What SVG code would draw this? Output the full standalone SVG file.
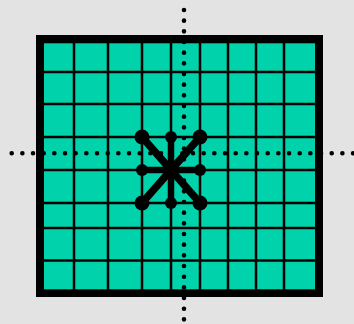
<svg xmlns="http://www.w3.org/2000/svg" width="354" height="324" viewBox="0 0 354 324">
<style>
.grid line{stroke:#000;stroke-width:2.5}
.dots{stroke:#000;stroke-width:4.6;stroke-linecap:round;stroke-dasharray:0 10.667;fill:none}
.arm{stroke:#000;stroke-width:6.5;stroke-linecap:round}
.diag{stroke:#000;stroke-width:7.5;stroke-linecap:round}
</style>
<rect width="354" height="324" fill="#e3e3e3"/>
<g id="board">
<rect x="36" y="35" width="287" height="262" fill="#000"/>
<rect x="44" y="43.3" width="271" height="246" fill="#00d2ac"/>
<g class="grid">
<line x1="74" y1="43" x2="74" y2="290"/>
<line x1="108" y1="43" x2="108" y2="290"/>
<line x1="142" y1="43" x2="142" y2="290"/>
<line x1="171" y1="43" x2="171" y2="290"/>
<line x1="200" y1="43" x2="200" y2="290"/>
<line x1="228" y1="43" x2="228" y2="290"/>
<line x1="256" y1="43" x2="256" y2="290"/>
<line x1="284" y1="43" x2="284" y2="290"/>
<line x1="44" y1="72" x2="315" y2="72"/>
<line x1="44" y1="104" x2="315" y2="104"/>
<line x1="44" y1="137" x2="315" y2="137"/>
<line x1="44" y1="170" x2="315" y2="170"/>
<line x1="44" y1="203" x2="315" y2="203"/>
<line x1="44" y1="228" x2="315" y2="228"/>
<line x1="44" y1="260.5" x2="315" y2="260.5"/>
</g>
</g>
<g id="axes">
<line class="dots" x1="184" y1="10" x2="184" y2="320"/>
<line class="dots" x1="11.7" y1="153.3" x2="354" y2="153.3"/>
</g>
<g id="star">
<line class="arm" x1="171" y1="170" x2="171" y2="137"/>
<line class="arm" x1="171" y1="170" x2="171" y2="203"/>
<line class="arm" x1="171" y1="170" x2="142" y2="170"/>
<line class="arm" x1="171" y1="170" x2="200" y2="170"/>
<line class="diag" x1="171" y1="170" x2="142" y2="137"/>
<line class="diag" x1="171" y1="170" x2="200" y2="137"/>
<line class="diag" x1="171" y1="170" x2="142" y2="203"/>
<line class="diag" x1="171" y1="170" x2="200" y2="203"/>
<circle cx="171" cy="137" r="6"/>
<circle cx="171" cy="203" r="6"/>
<circle cx="142" cy="170" r="6"/>
<circle cx="200" cy="170" r="6"/>
<circle cx="142" cy="137" r="7.5"/>
<circle cx="200" cy="137" r="7.5"/>
<circle cx="142" cy="203" r="7.5"/>
<circle cx="200" cy="203" r="7.5"/>
</g>
</svg>
